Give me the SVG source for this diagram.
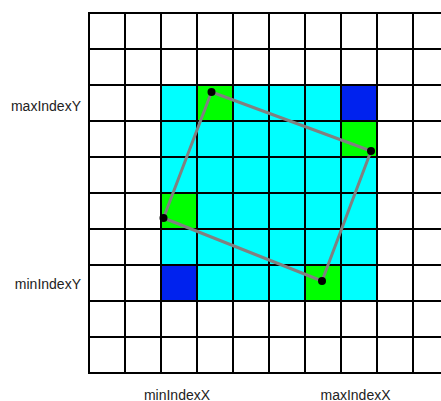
<svg xmlns="http://www.w3.org/2000/svg" width="441" height="401" viewBox="0 0 441 401">
<style>
.lbl{font-family:"Liberation Sans",Arial,sans-serif;font-size:14px;fill:#222}
.grid line{stroke:#000;stroke-width:2}
.cy{fill:#00ffff}.gr{fill:#00ff00}.bl{fill:#0022ee}
.dot{fill:#000}
</style>
<rect width="441" height="401" fill="#fff"/>
<g id="cells">
<rect class="cy" x="161" y="85" width="216" height="216"/>
<rect class="gr" x="197" y="85" width="36" height="36"/>
<rect class="bl" x="341" y="85" width="36" height="36"/>
<rect class="gr" x="341" y="121" width="36" height="36"/>
<rect class="gr" x="161" y="193" width="36" height="36"/>
<rect class="bl" x="161" y="265" width="36" height="36"/>
<rect class="gr" x="305" y="265" width="36" height="36"/>
</g>
<g id="grid" class="grid">
<line x1="89" y1="13" x2="89" y2="373"/>
<line x1="125" y1="13" x2="125" y2="373"/>
<line x1="161" y1="13" x2="161" y2="373"/>
<line x1="197" y1="13" x2="197" y2="373"/>
<line x1="233" y1="13" x2="233" y2="373"/>
<line x1="269" y1="13" x2="269" y2="373"/>
<line x1="305" y1="13" x2="305" y2="373"/>
<line x1="341" y1="13" x2="341" y2="373"/>
<line x1="377" y1="13" x2="377" y2="373"/>
<line x1="413" y1="13" x2="413" y2="373"/>
<line x1="88" y1="13" x2="441" y2="13"/>
<line x1="88" y1="49" x2="441" y2="49"/>
<line x1="88" y1="85" x2="441" y2="85"/>
<line x1="88" y1="121" x2="441" y2="121"/>
<line x1="88" y1="157" x2="441" y2="157"/>
<line x1="88" y1="193" x2="441" y2="193"/>
<line x1="88" y1="229" x2="441" y2="229"/>
<line x1="88" y1="265" x2="441" y2="265"/>
<line x1="88" y1="301" x2="441" y2="301"/>
<line x1="88" y1="337" x2="441" y2="337"/>
<line x1="88" y1="373" x2="441" y2="373"/>
</g>
<g id="connectors">
<polygon points="211.5,92 371,151 322,281 163.5,218" fill="none" stroke="#808080" stroke-width="3" stroke-linejoin="round"/>
</g>
<g id="points">
<circle class="dot" cx="211.5" cy="92" r="4"/>
<circle class="dot" cx="371" cy="151" r="4"/>
<circle class="dot" cx="322" cy="281" r="4"/>
<circle class="dot" cx="163.5" cy="218" r="4"/>
</g>
<g id="labels">
<text class="lbl" x="81" y="110.5" text-anchor="end">maxIndexY</text>
<text class="lbl" x="81" y="289" text-anchor="end">minIndexY</text>
<text class="lbl" x="177" y="399.5" text-anchor="middle">minIndexX</text>
<text class="lbl" x="355.5" y="399.5" text-anchor="middle">maxIndexX</text>
</g>
</svg>
